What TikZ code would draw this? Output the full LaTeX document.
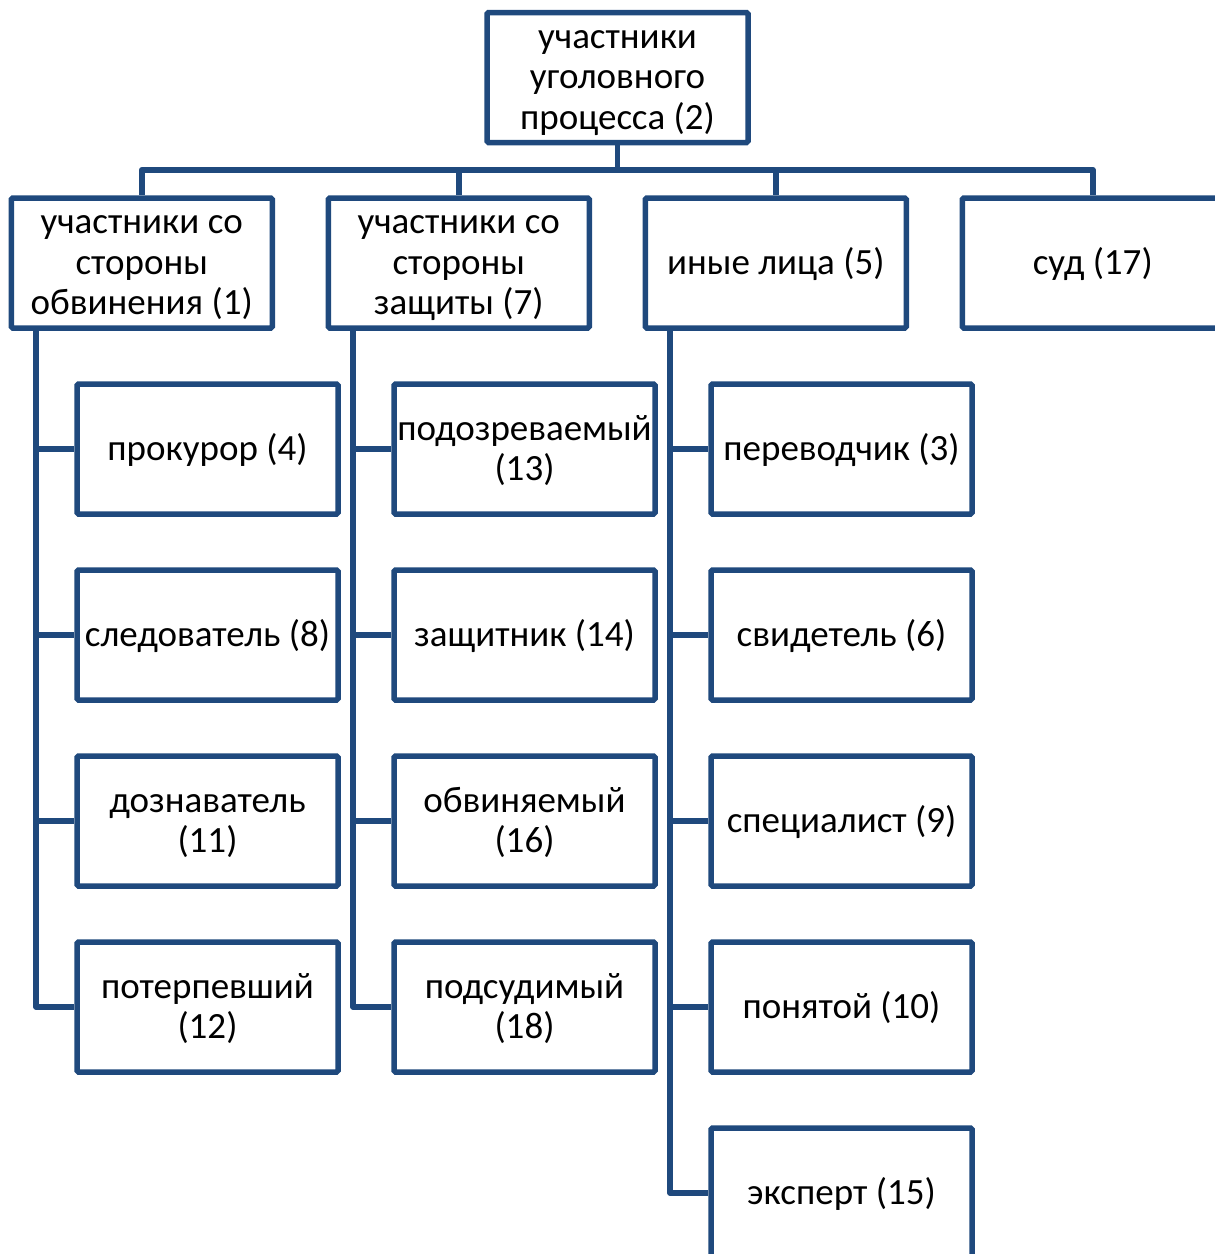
\documentclass[tikz,border=0pt]{standalone}
\usepackage{fontspec}
\setmainfont{Carlito}
\usepackage{xcolor}
\usetikzlibrary{positioning}
\definecolor{boxblue}{RGB}{31,73,125}
\newcommand\boxstrut{\rule[-9pt]{0pt}{40.5pt}}

\begin{document}
\begin{tikzpicture}[
    x=1pt, y=1pt,
    node distance=50.5pt,
    box/.style={rectangle, draw=boxblue, line width=5.5pt, fill=white, text width=261pt, inner sep=0pt, align=flush center, minimum height=130pt, rounded corners=1.5pt, font=\fontsize{37}{40.5}\selectfont, execute at begin node=\boxstrut, execute at end node=\boxstrut},
    link/.style={draw=boxblue, line width=5.5pt, line join=round}
]
    \useasboundingbox (0,0) rectangle (1215,-1254);
    \clip (0,0) rectangle (1215,-1254);

    % Top
    \node[box] (uch) at (617.5,-77.5) {участники\\уголовного\\процесса (2)};

    % First level
    \node[box] (obv) at (141.75,-263) {участники со\\стороны\\обвинения (1)};
    \node[box, right=of obv] (zasch) {участники со\\стороны\\защиты (7)};
    \node[box, right=of zasch] (inye) {иные лица (5)};
    \node[box, right=of inye] (sud) {суд (17)};

    % Prosecution side
    \node[box, below=of obv, xshift=65.75pt] (prok) {прокурор (4)};
    \node[box, below=of prok] (sled) {следователь (8)};
    \node[box, below=of sled] (dozn) {дознаватель\\(11)};
    \node[box, below=of dozn] (poter) {потерпевший\\(12)};

    % Defence side
    \node[box, below=of zasch, xshift=65.75pt] (podozr) {подозреваемый\\(13)};
    \node[box, below=of podozr] (zaschit) {защитник (14)};
    \node[box, below=of zaschit] (obvin) {обвиняемый\\(16)};
    \node[box, below=of obvin] (podsud) {подсудимый\\(18)};

    % Other persons
    \node[box, below=of inye, xshift=65.75pt] (perev) {переводчик (3)};
    \node[box, below=of perev] (svid) {свидетель (6)};
    \node[box, below=of svid] (spec) {специалист (9)};
    \node[box, below=of spec] (ponyat) {понятой (10)};
    \node[box, below=of ponyat] (ekspert) {эксперт (15)};

    % Links
    \foreach \n in {obv,zasch,inye,sud}
        \draw[link] (uch.south) -- ++(0,-24.5) -| (\n.north);
    \foreach \n in {prok,sled,dozn,poter}
        \draw[link] ([xshift=27.5pt]obv.south west) |- (\n.west);
    \foreach \n in {podozr,zaschit,obvin,podsud}
        \draw[link] ([xshift=27.5pt]zasch.south west) |- (\n.west);
    \foreach \n in {perev,svid,spec,ponyat,ekspert}
        \draw[link] ([xshift=27.5pt]inye.south west) |- (\n.west);

\end{tikzpicture}
\end{document}
